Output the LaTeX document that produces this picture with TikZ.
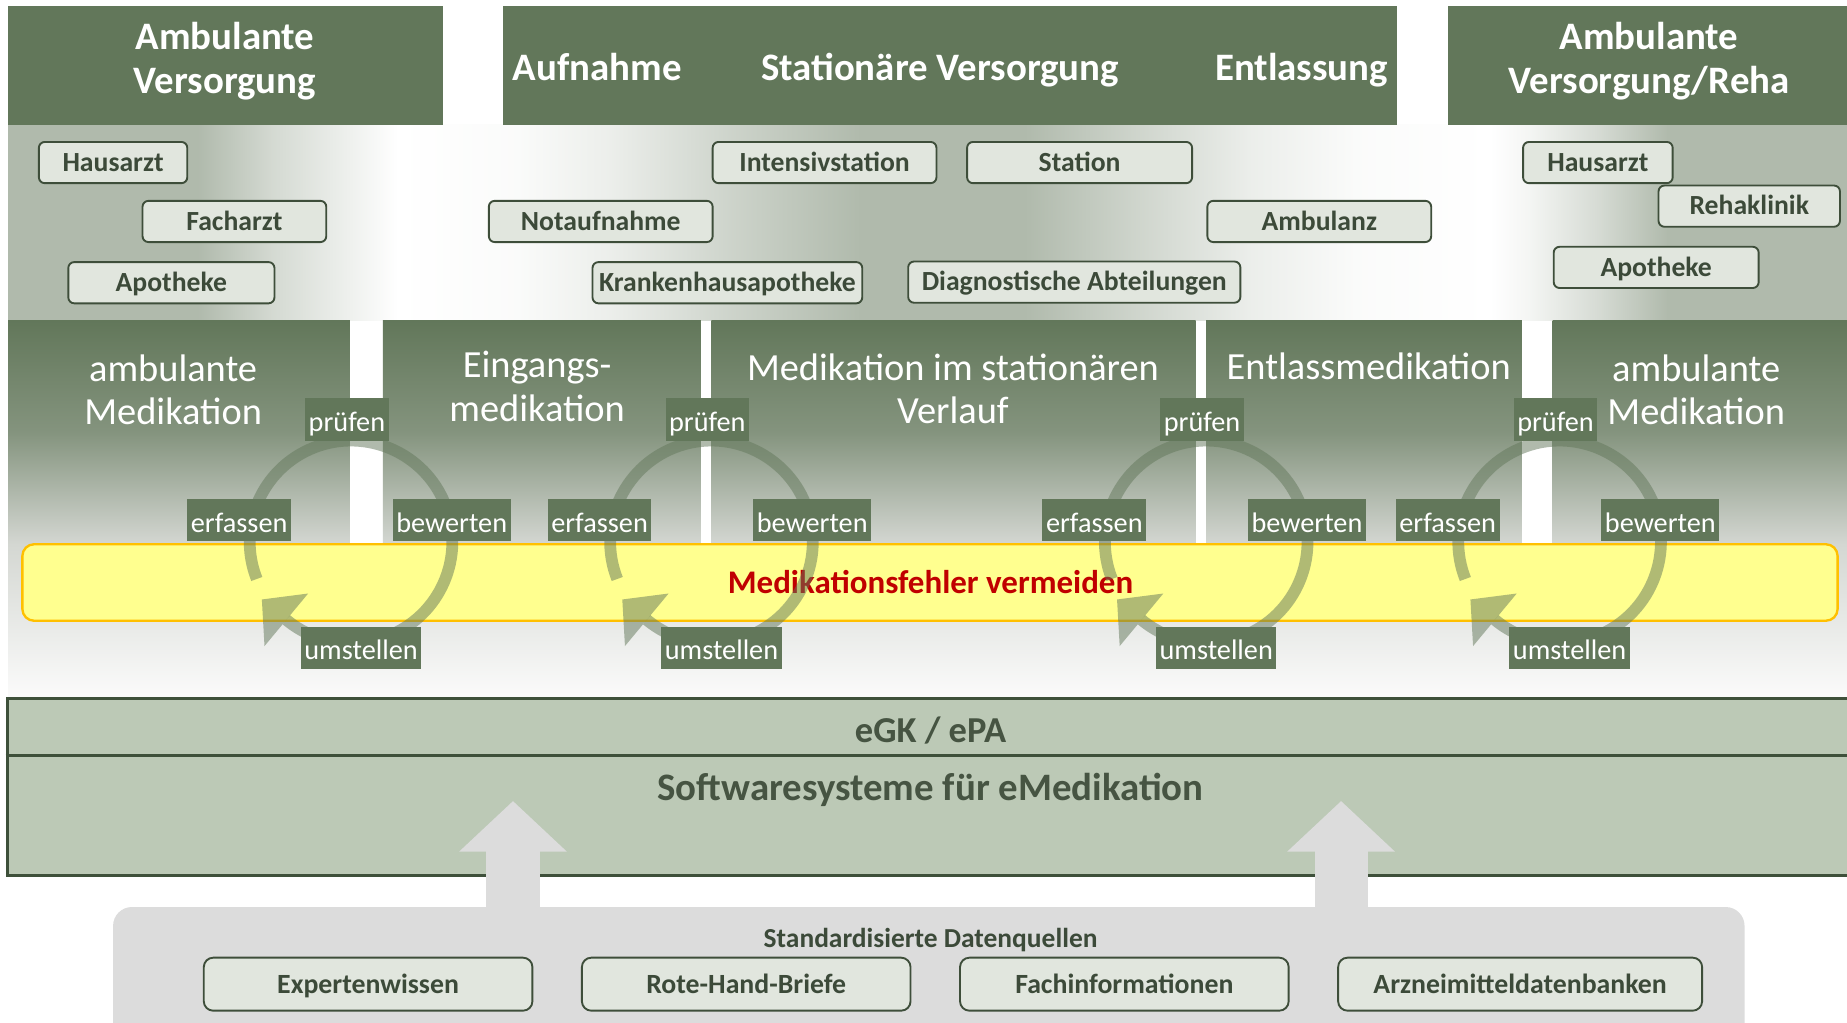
\documentclass[tikz,border=0pt]{standalone}
\usepackage{fontspec}
\setmainfont{Carlito}
\usetikzlibrary{calc,arrows.meta}
\definecolor{dg}{RGB}{98,119,90}
\definecolor{bandgray}{RGB}{176,186,172}
\definecolor{colbot}{RGB}{212,215,210}
\definecolor{boxfill}{RGB}{225,230,222}
\definecolor{boxline}{RGB}{62,78,58}
\definecolor{boxtext}{RGB}{60,74,57}
\definecolor{egkfill}{RGB}{188,201,182}
\definecolor{egkline}{RGB}{62,80,58}
\definecolor{egktext}{RGB}{70,84,66}
\definecolor{ylw}{RGB}{255,255,143}
\definecolor{ylwline}{RGB}{255,192,0}
\definecolor{dred}{RGB}{192,0,0}
\definecolor{lgray}{RGB}{220,220,220}
\definecolor{nearwhite}{RGB}{251,251,251}
\newcommand\myband[4]{\path[left color=#3, right color=#4] (#1,106) rectangle (#2,272);}
\begin{document}
\begin{tikzpicture}[x=1pt,y=-1pt,
 hdrbox/.style={fill=dg, draw=none, inner sep=0pt},
 hdrtxt/.style={text=white, font=\bfseries\fontsize{33}{37}\selectfont, align=center, inner sep=0pt},
 coltxt/.style={text=white, font=\fontsize{32.6}{37}\selectfont, align=center, inner sep=0pt},
 colbox/.style={top color=dg, bottom color=colbot, middle color=dg!70!colbot, draw=none, inner sep=0pt, minimum height=190pt},
 smallbox/.style={draw=boxline, line width=1.6pt, fill=boxfill, rounded corners=5pt, text=boxtext, font=\bfseries\fontsize{23.5}{24}\selectfont, minimum height=35pt, inner sep=0pt, text height=15pt, text depth=0pt},
 srcbox/.style={smallbox, font=\bfseries\fontsize{23.6}{24}\selectfont, minimum height=45pt, rounded corners=8pt},
 srctitle/.style={text=boxtext, font=\bfseries\fontsize{23.3}{24}\selectfont, inner sep=0pt, text height=15pt, text depth=0pt},
 cyclbl/.style={fill=dg, text=white, font=\fontsize{24}{25}\selectfont, inner xsep=3pt, inner ysep=0pt, minimum height=36pt, text height=20.5pt, text depth=0pt},
 ring/.style={draw=dg, draw opacity=0.5, line width=10pt},
 ringhead/.style={fill=dg, fill opacity=0.5, draw=none},
 bigarrow/.style={draw=lgray, line width=45pt, -{Triangle[width=89pt,length=43pt]}},
 egktxt/.style={text=egktext, font=\bfseries\fontsize{31}{33}\selectfont, inner sep=0pt, text depth=0pt},
]
\useasboundingbox (0,0) rectangle (1568,868);
\clip (0,0) rectangle (1568,868);
\fill[white] (0,0) rectangle (1568,868);

% gradient band under the headers
\fill[bandgray] (7,106) rectangle (169,272);
\myband{168}{231}{bandgray}{bandgray!55!white}
\myband{230}{338}{bandgray!55!white}{white}
\myband{338}{441}{white}{bandgray!6!white}
\myband{440}{521}{bandgray!6!white}{bandgray!25!white}
\myband{520}{621}{bandgray!25!white}{bandgray!63!white}
\myband{620}{731}{bandgray!63!white}{bandgray}
\fill[bandgray] (730,106) rectangle (871,272);
\myband{870}{961}{bandgray}{bandgray!63!white}
\myband{960}{1061}{bandgray!63!white}{bandgray!25!white}
\myband{1060}{1151}{bandgray!25!white}{bandgray!6!white}
\myband{1150}{1265}{bandgray!6!white}{white}
\myband{1265}{1301}{white}{bandgray!15!white}
\myband{1300}{1361}{bandgray!15!white}{bandgray!55!white}
\myband{1360}{1416}{bandgray!55!white}{bandgray}
\fill[bandgray] (1415,106) rectangle (1573,272);

% headers
\node[hdrbox, minimum width=369pt, minimum height=101pt] (h1) at (191.5,55.5) {};
\node[hdrtxt] (h1t) at (191,52) {Ambulante\\Versorgung};
\node[hdrbox, minimum width=759pt, minimum height=101pt] (h2) at (806.5,55.5) {};
\node[hdrtxt, anchor=base] (h2a) at (507,68) {Aufnahme};
\node[hdrtxt, anchor=base] (h2b) at (798,68) {Stationäre Versorgung};
\node[hdrtxt, anchor=base] (h2c) at (1105,68) {Entlassung};
\node[hdrbox, minimum width=344pt, minimum height=101pt] (h3) at (1401,55.5) {};
\node[hdrtxt] (h3t) at (1400,52) {Ambulante\\Versorgung/Reha};

% small boxes
\node[smallbox, minimum width=126pt] (b1) at (96,138) {Hausarzt};
\node[smallbox, minimum width=156pt] (b2) at (199,188) {Facharzt};
\node[smallbox, minimum width=175pt] (b3) at (145.5,240) {Apotheke};
\node[smallbox, minimum width=190pt] (b4) at (700,138) {Intensivstation};
\node[smallbox, minimum width=191pt] (b5) at (916.5,138) {Station};
\node[smallbox, minimum width=190pt] (b6) at (510,188) {Notaufnahme};
\node[smallbox, minimum width=190pt] (b7) at (1120,188) {Ambulanz};
\node[smallbox, minimum width=229pt] (b8) at (617.5,240) {Krankenhausapotheke};
\node[smallbox, minimum width=282pt] (b9) at (912,239.5) {Diagnostische Abteilungen};
\node[smallbox, minimum width=127pt] (b10) at (1356.5,138) {Hausarzt};
\node[smallbox, minimum width=154pt] (b11) at (1485,175) {Rehaklinik};
\node[smallbox, minimum width=174pt] (b12) at (1406,227) {Apotheke};

% medication columns
\node[colbox, minimum width=290pt] (c1) at (152,367) {};
\node[colbox, minimum width=270pt] (c2) at (460,367) {};
\node[colbox, minimum width=411pt] (c3) at (809.5,367) {};
\node[colbox, minimum width=268pt] (c4) at (1158,367) {};
\node[colbox, minimum width=255pt] (c5) at (1445.5,367) {};
\node[coltxt] (c1t) at (147,331) {ambulante\\Medikation};
\node[coltxt] (c2t) at (456,328) {Eingangs-\\medikation};
\node[coltxt] (c3t) at (809,330) {Medikation im stationären\\Verlauf};
\node[coltxt] (c4t) at (1162,311) {Entlassmedikation};
\node[coltxt] (c5t) at (1440,331) {ambulante\\Medikation};

% lower fading strip
\path[top color=colbot, bottom color=nearwhite] (7,462) rectangle (1573,593);

% yellow bar
\node[draw=ylwline, line width=2pt, fill=ylw, rounded corners=10pt, minimum width=1541pt, minimum height=65pt, inner sep=0pt] (yb) at (789.5,494.5) {};
\node[text=dred, font=\bfseries\fontsize{28}{29}\selectfont, inner sep=0pt, text height=18pt, text depth=0pt] (ybt) at (790,495) {Medikationsfehler vermeiden};

% cycles
\foreach \cx/\k in {298/1,604/2,1024/3,1324/4}{
  \coordinate (cc\k) at (\cx,460);
  \draw[ring] ($(cc\k)+(158.5:86)$) arc[start angle=158.5, end angle=489.7, radius=86];
  \fill[ringhead] ($(cc\k)+(129.7:86)+(219.7:27)$) -- ($(cc\k)+(129.7:86)+(129.7:29)$) -- ($(cc\k)+(129.7:86)+(309.7:29)$) -- cycle;
  \node[cyclbl] (pr\k) at ($(cc\k)+(-3.5,-104)$) {prüfen};
  \node[cyclbl] (er\k) at ($(cc\k)+(-95,-18.5)$) {erfassen};
  \node[cyclbl] (bw\k) at ($(cc\k)+(85.5,-18.5)$) {bewerten};
  \node[cyclbl] (um\k) at ($(cc\k)+(8.5,90)$) {umstellen};
}

% eGK / ePA and software systems
\node[draw=egkline, line width=2.5pt, fill=egkfill, minimum width=1570pt, minimum height=150pt, inner sep=0pt] (egk) at (791,668) {};
\coordinate (dv) at (0,641);
\draw[egkline, line width=2.5pt] (egk.west |- dv) -- (egk.east |- dv);
\node[egktxt, text height=19.5pt] (egkt) at (790,621) {eGK / ePA};
\node[egktxt, font=\bfseries\fontsize{33}{35}\selectfont, text height=21.2pt] (swt) at (790,669) {Softwaresysteme für eMedikation};

% data sources
\node[fill=lgray, rounded corners=16pt, minimum width=1385pt, minimum height=140pt, inner sep=0pt] (src) at (788.5,840) {};
\coordinate (a1s) at (435.5,775);
\coordinate (a1e) at (435.5,680);
\coordinate (a2s) at (1138.5,775);
\coordinate (a2e) at (1138.5,680);
\draw[bigarrow] (a1s) -- (a1e);
\draw[bigarrow] (a2s) -- (a2e);
\node[srctitle] (srct) at (790,797) {Standardisierte Datenquellen};
\node[srcbox, minimum width=279pt] (s1) at (312.5,835.5) {Expertenwissen};
\node[srcbox, minimum width=279pt] (s2) at (633.5,835.5) {Rote-Hand-Briefe};
\node[srcbox, minimum width=279pt] (s3) at (954.5,835.5) {Fachinformationen};
\node[srcbox, minimum width=309pt] (s4) at (1290.5,835.5) {Arzneimitteldatenbanken};
\end{tikzpicture}
\end{document}
